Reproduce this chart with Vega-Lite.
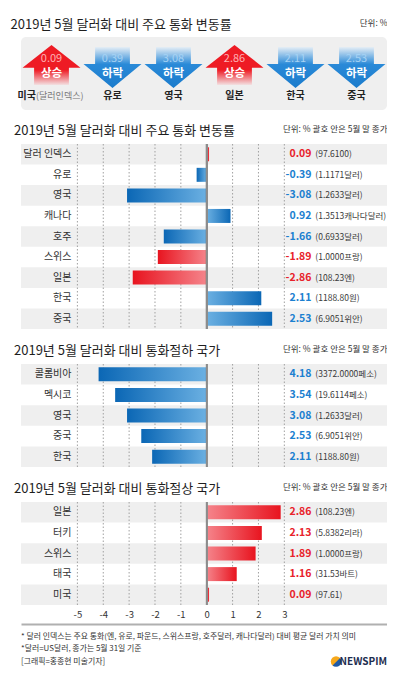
{
  "$schema": "https://vega.github.io/schema/vega-lite/v6.json",
  "background": "white",
  "padding": {"left": 10, "top": 18, "right": 0, "bottom": 0},
  "spacing": 14,
  "config": {
    "font": "Noto Sans CJK KR",
    "view": {"stroke": null},
    "title": {"anchor": "start", "fontSize": 13, "fontWeight": "normal", "color": "#1e1e1e", "font": "Noto Sans CJK KR", "dx": -7, "offset": -14},
    "axis": {"labelFont": "Noto Sans CJK KR", "titleFont": "Noto Sans CJK KR"}
  },
  "datasets": {
    "summary": [
      {"name": "미국", "note": "(달러인덱스)", "rate": "0.09", "trend": "상승"},
      {"name": "유로", "rate": "0.39", "trend": "하락"},
      {"name": "영국", "rate": "3.08", "trend": "하락"},
      {"name": "일본", "rate": "2.86", "trend": "상승"},
      {"name": "한국", "rate": "2.11", "trend": "하락"},
      {"name": "중국", "rate": "2.53", "trend": "하락"}
    ],
    "major": [
      {"country": "달러 인덱스", "change": 0.09, "close": "(97.6100)", "trend": "상승"},
      {"country": "유로", "change": -0.39, "close": "(1.1171달러)", "trend": "하락"},
      {"country": "영국", "change": -3.08, "close": "(1.2633달러)", "trend": "하락"},
      {"country": "캐나다", "change": 0.92, "close": "(1.3513캐나다달러)", "trend": "하락"},
      {"country": "호주", "change": -1.66, "close": "(0.6933달러)", "trend": "하락"},
      {"country": "스위스", "change": -1.89, "close": "(1.0000프랑)", "trend": "상승"},
      {"country": "일본", "change": -2.86, "close": "(108.23엔)", "trend": "상승"},
      {"country": "한국", "change": 2.11, "close": "(1188.80원)", "trend": "하락"},
      {"country": "중국", "change": 2.53, "close": "(6.9051위안)", "trend": "하락"}
    ],
    "weak": [
      {"country": "콜롬비아", "change": -4.18, "rate": "4.18", "close": "(3372.0000페소)"},
      {"country": "멕시코", "change": -3.54, "rate": "3.54", "close": "(19.6114페소)"},
      {"country": "영국", "change": -3.08, "rate": "3.08", "close": "(1.2633달러)"},
      {"country": "중국", "change": -2.53, "rate": "2.53", "close": "(6.9051위안)"},
      {"country": "한국", "change": -2.11, "rate": "2.11", "close": "(1188.80원)"}
    ],
    "strong": [
      {"country": "일본", "change": 2.86, "close": "(108.23엔)"},
      {"country": "터키", "change": 2.13, "close": "(5.8382리라)"},
      {"country": "스위스", "change": 1.89, "close": "(1.0000프랑)"},
      {"country": "태국", "change": 1.16, "close": "(31.53바트)"},
      {"country": "미국", "change": 0.09, "close": "(97.61)"}
    ],
    "ticks": [{"tick": -5}, {"tick": -4}, {"tick": -3}, {"tick": -2}, {"tick": -1}, {"tick": 1}, {"tick": 2}, {"tick": 3}],
    "notes": [
      {"line": 1, "text": "* 달러 인덱스는 주요 통화(엔, 유로, 파운드, 스위스프랑, 호주달러, 캐나다달러) 대비 평균 달러 가치 의미"},
      {"line": 2, "text": "*달러=US달러, 종가는 5월 31일 기준"},
      {"line": 3, "text": "[그래픽=홍종현 미술기자]"}
    ]
  },
  "vconcat": [
    {
      "width": 366,
      "height": 73,
      "view": {"fill": "#efefef", "stroke": null, "cornerRadius": 5},
      "title": {"text": "2019년 5월 달러화 대비 주요 통화 변동률"},
      "data": {"name": "summary"},
      "encoding": {
        "x": {"field": "name", "type": "nominal", "sort": null, "title": "단위: %", "scale": {"domain": ["미국", "유로", "영국", "일본", "한국", "중국"], "paddingInner": 0, "paddingOuter": 0.12}, "axis": {"orient": "top", "labels": false, "ticks": false, "domain": false, "grid": false, "titleAnchor": "end", "titleFontSize": 8.5, "titleFontWeight": "normal", "titleColor": "#333", "titlePadding": 10}}
      },
      "layer": [
        {
          "mark": {"type": "point", "filled": true, "size": 3364, "opacity": 1, "strokeWidth": 0},
          "encoding": {
            "shape": {"condition": {"test": "datum.trend === '상승'", "value": "M0,-0.98L1,-0.2L0.6,-0.2L0.6,0.4L-0.6,0.4L-0.6,-0.2L-1,-0.2Z"}, "value": "M-0.6,-0.91L0.6,-0.91L0.6,-0.33L1,-0.33L0,0.5L-1,-0.33L-0.6,-0.33Z"},
            "fill": {
              "condition": {"test": "datum.trend === '상승'", "value": {"gradient": "linear", "x1": 0, "y1": 0, "x2": 0, "y2": 1, "stops": [{"offset": 0, "color": "#ee1b24"}, {"offset": 0.62, "color": "#ee1b24"}, {"offset": 1, "color": "#f3e2e3"}]}},
              "value": {"gradient": "linear", "x1": 0, "y1": 0, "x2": 0, "y2": 1, "stops": [{"offset": 0, "color": "#e4edf5"}, {"offset": 0.42, "color": "#2a8ad8"}, {"offset": 1, "color": "#1a7bcc"}]}
            }
          }
        },
        {
          "mark": {"type": "text", "dy": -14.5, "fontSize": 11, "baseline": "middle"},
          "encoding": {
            "text": {"field": "rate"},
            "color": {"condition": {"test": "datum.trend === '상승'", "value": "#ffb0b3"}, "value": "#a5d2f4"}
          }
        },
        {
          "mark": {"type": "text", "dy": 0.5, "fontSize": 11.5, "fontWeight": "bold", "color": "white", "baseline": "middle"},
          "encoding": {"text": {"field": "trend"}}
        },
        {
          "transform": [{"filter": "!datum.note"}],
          "mark": {"type": "text", "dy": 22.5, "fontSize": 10, "fontWeight": "bold", "color": "#222", "baseline": "middle"},
          "encoding": {"text": {"field": "name"}}
        },
        {
          "transform": [{"filter": "datum.note"}],
          "mark": {"type": "text", "dy": 22.5, "dx": -15.5, "align": "right", "fontSize": 10, "fontWeight": "bold", "color": "#222", "baseline": "middle"},
          "encoding": {"text": {"field": "name"}}
        },
        {
          "transform": [{"filter": "datum.note"}],
          "mark": {"type": "text", "dy": 22.5, "dx": -15.5, "align": "left", "fontSize": 9, "color": "#777", "baseline": "middle"},
          "encoding": {"text": {"field": "note"}}
        }
      ]
    },
    {
      "width": 366,
      "height": 185,
      "title": {"text": "2019년 5월 달러화 대비 주요 통화 변동률"},
      "data": {"name": "major"},
      "layer": [
        {
          "transform": [{"window": [{"op": "row_number", "as": "idx"}]}],
          "mark": {"type": "bar", "color": "#000"},
          "encoding": {
            "x": {"datum": -7.18, "type": "quantitative", "title": "단위: % 괄호 안은 5월 말 종가", "scale": {"domain": [-7.18, 6.97], "nice": false, "zero": false}, "axis": {"orient": "top", "labels": false, "ticks": false, "domain": false, "grid": false, "titleAnchor": "end", "titleFontSize": 8.5, "titleFontWeight": "normal", "titleColor": "#333", "titlePadding": 11}},
            "x2": {"datum": 6.97},
            "y": {"field": "country", "type": "nominal", "sort": null, "title": null, "scale": {"paddingInner": 0, "paddingOuter": 0}, "axis": {"orient": "left", "offset": -50, "labelPadding": 0, "ticks": false, "domain": false, "grid": false, "labelFontSize": 10, "labelColor": "#333"}},
            "fillOpacity": {"condition": {"test": "datum.idx % 2 === 1", "value": 0.063}, "value": 0}
          }
        },
        {
          "data": {"name": "ticks"},
          "mark": {"type": "rule", "color": "#a0a0a0", "strokeWidth": 1, "strokeDash": [1.5, 2]},
          "encoding": {"x": {"field": "tick", "type": "quantitative", "title": "단위: % 괄호 안은 5월 말 종가", "scale": {"domain": [-7.18, 6.97], "nice": false, "zero": false}}}
        },
        {
          "mark": {"type": "bar", "size": 14},
          "encoding": {
            "x": {"field": "change", "type": "quantitative", "title": "단위: % 괄호 안은 5월 말 종가", "scale": {"domain": [-7.18, 6.97], "nice": false, "zero": false}},
            "x2": {"datum": 0},
            "y": {"field": "country", "type": "nominal", "sort": null, "title": null},
            "color": {
              "condition": [
                {"test": "datum.trend === '상승' && datum.change < 0", "value": {"gradient": "linear", "x1": 0, "y1": 0, "x2": 1, "y2": 0, "stops": [{"offset": 0, "color": "#e8141f"}, {"offset": 1, "color": "#f5848b"}]}},
                {"test": "datum.trend === '상승'", "value": {"gradient": "linear", "x1": 0, "y1": 0, "x2": 1, "y2": 0, "stops": [{"offset": 0, "color": "#f5848b"}, {"offset": 1, "color": "#e8141f"}]}},
                {"test": "datum.change < 0", "value": {"gradient": "linear", "x1": 0, "y1": 0, "x2": 1, "y2": 0, "stops": [{"offset": 0, "color": "#0b67b5"}, {"offset": 1, "color": "#6bb0e2"}]}}
              ],
              "value": {"gradient": "linear", "x1": 0, "y1": 0, "x2": 1, "y2": 0, "stops": [{"offset": 0, "color": "#6bb0e2"}, {"offset": 1, "color": "#0b67b5"}]}
            }
          }
        },
        {
          "mark": {"type": "rule", "color": "#8c8c8c", "strokeWidth": 1.5},
          "encoding": {"x": {"datum": 0, "type": "quantitative", "title": "단위: % 괄호 안은 5월 말 종가", "scale": {"domain": [-7.18, 6.97], "nice": false, "zero": false}}}
        },
        {
          "mark": {"type": "text", "align": "right", "baseline": "middle", "fontSize": 10.5, "fontWeight": "bold"},
          "encoding": {
            "x": {"datum": 4.05, "type": "quantitative", "title": "단위: % 괄호 안은 5월 말 종가", "scale": {"domain": [-7.18, 6.97], "nice": false, "zero": false}},
            "y": {"field": "country", "type": "nominal", "sort": null, "title": null},
            "text": {"field": "change", "type": "nominal"},
            "color": {"condition": {"test": "datum.trend === '상승'", "value": "#e8222b"}, "value": "#1c80d0"}
          }
        },
        {
          "mark": {"type": "text", "align": "left", "baseline": "middle", "fontSize": 8.5, "color": "#3a3a3a"},
          "encoding": {
            "x": {"datum": 4.2, "type": "quantitative", "title": "단위: % 괄호 안은 5월 말 종가", "scale": {"domain": [-7.18, 6.97], "nice": false, "zero": false}},
            "y": {"field": "country", "type": "nominal", "sort": null, "title": null},
            "text": {"field": "close"}
          }
        }
      ]
    },
    {
      "width": 366,
      "height": 103,
      "title": {"text": "2019년 5월 달러화 대비 통화절하 국가"},
      "data": {"name": "weak"},
      "layer": [
        {
          "transform": [{"window": [{"op": "row_number", "as": "idx"}]}],
          "mark": {"type": "bar", "color": "#000"},
          "encoding": {
            "x": {"datum": -7.18, "type": "quantitative", "title": "단위: % 괄호 안은 5월 말 종가", "scale": {"domain": [-7.18, 6.97], "nice": false, "zero": false}, "axis": {"orient": "top", "labels": false, "ticks": false, "domain": false, "grid": false, "titleAnchor": "end", "titleFontSize": 8.5, "titleFontWeight": "normal", "titleColor": "#333", "titlePadding": 11}},
            "x2": {"datum": 6.97},
            "y": {"field": "country", "type": "nominal", "sort": null, "title": null, "scale": {"paddingInner": 0, "paddingOuter": 0}, "axis": {"orient": "left", "offset": -50, "labelPadding": 0, "ticks": false, "domain": false, "grid": false, "labelFontSize": 10, "labelColor": "#333"}},
            "fillOpacity": {"condition": {"test": "datum.idx % 2 === 1", "value": 0.063}, "value": 0}
          }
        },
        {
          "data": {"name": "ticks"},
          "mark": {"type": "rule", "color": "#a0a0a0", "strokeWidth": 1, "strokeDash": [1.5, 2]},
          "encoding": {"x": {"field": "tick", "type": "quantitative", "title": "단위: % 괄호 안은 5월 말 종가", "scale": {"domain": [-7.18, 6.97], "nice": false, "zero": false}}}
        },
        {
          "mark": {"type": "bar", "size": 14, "color": {"gradient": "linear", "x1": 0, "y1": 0, "x2": 1, "y2": 0, "stops": [{"offset": 0, "color": "#0b67b5"}, {"offset": 1, "color": "#6bb0e2"}]}},
          "encoding": {
            "x": {"field": "change", "type": "quantitative", "title": "단위: % 괄호 안은 5월 말 종가", "scale": {"domain": [-7.18, 6.97], "nice": false, "zero": false}},
            "x2": {"datum": 0},
            "y": {"field": "country", "type": "nominal", "sort": null, "title": null}
          }
        },
        {
          "mark": {"type": "rule", "color": "#8c8c8c", "strokeWidth": 1.5},
          "encoding": {"x": {"datum": 0, "type": "quantitative", "title": "단위: % 괄호 안은 5월 말 종가", "scale": {"domain": [-7.18, 6.97], "nice": false, "zero": false}}}
        },
        {
          "mark": {"type": "text", "align": "right", "baseline": "middle", "fontSize": 10.5, "fontWeight": "bold", "color": "#1c80d0"},
          "encoding": {
            "x": {"datum": 4.05, "type": "quantitative", "title": "단위: % 괄호 안은 5월 말 종가", "scale": {"domain": [-7.18, 6.97], "nice": false, "zero": false}},
            "y": {"field": "country", "type": "nominal", "sort": null, "title": null},
            "text": {"field": "rate"}
          }
        },
        {
          "mark": {"type": "text", "align": "left", "baseline": "middle", "fontSize": 8.5, "color": "#3a3a3a"},
          "encoding": {
            "x": {"datum": 4.2, "type": "quantitative", "title": "단위: % 괄호 안은 5월 말 종가", "scale": {"domain": [-7.18, 6.97], "nice": false, "zero": false}},
            "y": {"field": "country", "type": "nominal", "sort": null, "title": null},
            "text": {"field": "close"}
          }
        }
      ]
    },
    {
      "spacing": 3,
      "vconcat": [
        {
          "width": 366,
          "height": 103,
          "title": {"text": "2019년 5월 달러화 대비 통화절상 국가"},
          "data": {"name": "strong"},
          "layer": [
            {
              "transform": [{"window": [{"op": "row_number", "as": "idx"}]}],
              "mark": {"type": "bar", "color": "#000"},
              "encoding": {
                "x": {"datum": -7.18, "type": "quantitative", "title": "단위: % 괄호 안은 5월 말 종가", "scale": {"domain": [-7.18, 6.97], "nice": false, "zero": false}, "axis": {"orient": "top", "labels": false, "ticks": false, "domain": false, "grid": false, "titleAnchor": "end", "titleFontSize": 8.5, "titleFontWeight": "normal", "titleColor": "#333", "titlePadding": 11}},
                "x2": {"datum": 6.97},
                "y": {"field": "country", "type": "nominal", "sort": null, "title": null, "scale": {"paddingInner": 0, "paddingOuter": 0}, "axis": {"orient": "left", "offset": -50, "labelPadding": 0, "ticks": false, "domain": false, "grid": false, "labelFontSize": 10, "labelColor": "#333"}},
                "fillOpacity": {"condition": {"test": "datum.idx % 2 === 1", "value": 0.063}, "value": 0}
              }
            },
            {
              "data": {"name": "ticks"},
              "mark": {"type": "rule", "color": "#a0a0a0", "strokeWidth": 1, "strokeDash": [1.5, 2]},
              "encoding": {"x": {"field": "tick", "type": "quantitative", "title": "단위: % 괄호 안은 5월 말 종가", "scale": {"domain": [-7.18, 6.97], "nice": false, "zero": false}}}
            },
            {
              "mark": {"type": "bar", "size": 14, "color": {"gradient": "linear", "x1": 0, "y1": 0, "x2": 1, "y2": 0, "stops": [{"offset": 0, "color": "#f5848b"}, {"offset": 1, "color": "#e8141f"}]}},
              "encoding": {
                "x": {"field": "change", "type": "quantitative", "title": "단위: % 괄호 안은 5월 말 종가", "scale": {"domain": [-7.18, 6.97], "nice": false, "zero": false}},
                "x2": {"datum": 0},
                "y": {"field": "country", "type": "nominal", "sort": null, "title": null}
              }
            },
            {
              "mark": {"type": "rule", "color": "#8c8c8c", "strokeWidth": 1.5},
              "encoding": {"x": {"datum": 0, "type": "quantitative", "title": "단위: % 괄호 안은 5월 말 종가", "scale": {"domain": [-7.18, 6.97], "nice": false, "zero": false}}}
            },
            {
              "mark": {"type": "text", "align": "right", "baseline": "middle", "fontSize": 10.5, "fontWeight": "bold", "color": "#e8222b"},
              "encoding": {
                "x": {"datum": 4.05, "type": "quantitative", "title": "단위: % 괄호 안은 5월 말 종가", "scale": {"domain": [-7.18, 6.97], "nice": false, "zero": false}},
                "y": {"field": "country", "type": "nominal", "sort": null, "title": null},
                "text": {"field": "change", "type": "nominal"}
              }
            },
            {
              "mark": {"type": "text", "align": "left", "baseline": "middle", "fontSize": 8.5, "color": "#3a3a3a"},
              "encoding": {
                "x": {"datum": 4.2, "type": "quantitative", "title": "단위: % 괄호 안은 5월 말 종가", "scale": {"domain": [-7.18, 6.97], "nice": false, "zero": false}},
                "y": {"field": "country", "type": "nominal", "sort": null, "title": null},
                "text": {"field": "close"}
              }
            }
          ]
        },
        {
          "width": 366,
          "height": 50,
          "data": {"name": "notes"},
          "layer": [
            {
              "mark": {"type": "text", "align": "left", "baseline": "middle", "fontSize": 7.9, "color": "#333"},
              "encoding": {
                "x": {"datum": -7.18, "type": "quantitative", "title": null, "scale": {"domain": [-7.18, 6.97], "nice": false, "zero": false}, "axis": {"orient": "top", "values": [-5, -4, -3, -2, -1, 0, 1, 2, 3], "labelExpr": "'' + datum.value", "labelFontSize": 9.5, "labelColor": "#333", "labelPadding": 5, "ticks": false, "domain": true, "domainColor": "#b0b0b0", "domainWidth": 2, "grid": false}},
                "y": {"field": "line", "type": "ordinal", "scale": {"type": "point", "domain": [1, 2, 3], "padding": 1}, "axis": null},
                "text": {"field": "text"}
              }
            },
            {
              "data": {"values": [{"line": 3, "brand": "NEWSPIM"}]},
              "mark": {"type": "point", "shape": "circle", "filled": true, "size": 110, "opacity": 1, "strokeWidth": 0, "fill": {"gradient": "linear", "x1": 0, "y1": 0, "x2": 1, "y2": 1, "stops": [{"offset": 0, "color": "#f7a81b"}, {"offset": 0.5, "color": "#f7a81b"}, {"offset": 0.55, "color": "#1e5aa8"}, {"offset": 1, "color": "#1e5aa8"}]}},
              "encoding": {
                "x": {"datum": 5.0, "type": "quantitative", "title": null, "scale": {"domain": [-7.18, 6.97], "nice": false, "zero": false}},
                "y": {"field": "line", "type": "ordinal", "axis": null}
              }
            },
            {
              "data": {"values": [{"line": 3, "brand": "NEWSPIM"}]},
              "mark": {"type": "text", "align": "right", "baseline": "middle", "fontSize": 10, "fontWeight": "bold", "color": "#1d2d50"},
              "encoding": {
                "x": {"datum": 6.97, "type": "quantitative", "title": null, "scale": {"domain": [-7.18, 6.97], "nice": false, "zero": false}},
                "y": {"field": "line", "type": "ordinal", "axis": null},
                "text": {"field": "brand"}
              }
            }
          ]
        }
      ]
    }
  ]
}
